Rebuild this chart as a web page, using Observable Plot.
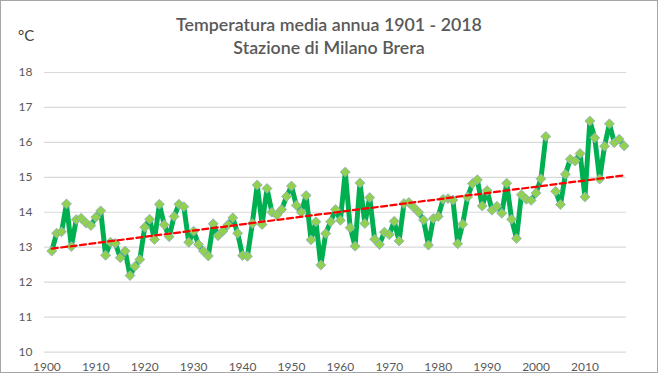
<!DOCTYPE html>
<html>
<head>
<meta charset="utf-8">
<script src="https://cdn.jsdelivr.net/npm/d3@7"></script>
<script src="https://cdn.jsdelivr.net/npm/@observablehq/plot@0.6"></script>
<style>
  html, body { margin: 0; padding: 0; background: #fff; }
  #wrap { position: relative; width: 658px; height: 373px; box-sizing: border-box; border: 1px solid #a6a6a6; overflow: hidden; font-family: Lato, "Open Sans", sans-serif; }
  #title { position: absolute; left: 0; top: 12px; width: 656px; text-align: center; color: #595959; font-size: 17.8px; line-height: 23px; font-weight: 600; }
  #unit { position: absolute; left: 17px; top: 25px; color: #404040; font-size: 15px; }
  #chart { position: absolute; left: -1px; top: 59px; }
</style>
</head>
<body>
<div id="wrap">
  <div id="title">Temperatura media annua 1901 - 2018<br>Stazione di Milano Brera</div>
  <div id="unit">°C</div>
  <div id="chart"></div>
</div>
<script>
const years = d3.range(1901, 2019);
const temps = [
  12.89, 13.40, 13.44, 14.24, 13.02, 13.79, 13.83, 13.69, 13.62, 13.86,
  14.04, 12.77, 13.14, 13.11, 12.70, 12.89, 12.19, 12.45, 12.65, 13.57,
  13.80, 13.22, 14.23, 13.64, 13.30, 13.88, 14.23, 14.16, 13.14, 13.46,
  13.08, 12.89, 12.75, 13.67, 13.33, 13.46, 13.64, 13.84, 13.40, 12.76,
  12.74, 13.68, 14.78, 13.65, 14.68, 14.00, 13.92, 14.08, 14.45, 14.75,
  14.20, 14.00, 14.48, 13.21, 13.73, 12.49, 13.39, 13.73, 14.08, 13.77,
  15.15, 13.56, 13.03, 14.84, 13.68, 14.42, 13.23, 13.08, 13.43, 13.36,
  13.74, 13.18, 14.25, 14.28, 14.14, 14.00, 13.78, 13.06, 13.82, 13.88,
  14.37, 14.39, 14.35, 13.10, 13.66, 14.44, 14.82, 14.93, 14.18, 14.62,
  14.06, 14.17, 13.97, 14.83, 13.80, 13.25, 14.50, 14.37, 14.34, 14.55,
  14.96, 16.17, null, 14.60, 14.22, 15.09, 15.52, 15.47, 15.68, 14.44,
  16.61, 16.13, 14.95, 15.89, 16.53, 15.99, 16.09, 15.90
];
const yTicks = [10, 11, 12, 13, 14, 15, 16, 17, 18];
const xTicks = [1900, 1910, 1920, 1930, 1940, 1950, 1960, 1970, 1980, 1990, 2000, 2010];

const data = years.map((year, i) => ({year, temp: temps[i]}));
const valid = data.filter(d => d.temp != null);

const chart = Plot.plot({
  width: 658,
  height: 313,
  marginTop: 12,
  marginBottom: 21,
  marginLeft: 44,
  marginRight: 31,
  style: { fontFamily: "Lato, 'Open Sans', sans-serif", fontSize: "12px", color: "#595959", background: "transparent" },
  x: { domain: [1899.5, 2018.5] },
  y: { domain: [10, 18] },
  marks: [
    Plot.gridY(yTicks, { stroke: "#d9d9d9", strokeOpacity: 1, strokeWidth: 1.2 }),
    Plot.axisY(yTicks, { tickSize: 0, tickPadding: 12, label: null, fill: "#595959", fontSize: 12 }),
    Plot.axisX(xTicks, { tickSize: 0, tickPadding: 10, label: null, tickFormat: d => String(d), fill: "#595959", fontSize: 12 }),
    Plot.line(data, { x: "year", y: "temp", stroke: "#00b050", strokeWidth: 5, strokeLinejoin: "round" }),
    Plot.dot(data, { x: "year", y: "temp", symbol: "diamond2", r: 4.5, fill: "#92d050", stroke: "#8fa9c8", strokeWidth: 0.8 }),
    Plot.linearRegressionY(valid, { x: "year", y: "temp", stroke: "#ff0000", strokeWidth: 2.25, strokeDasharray: "6,3.5", ci: 0 })
  ]
});
document.getElementById("chart").appendChild(chart);
</script>
</body>
</html>
